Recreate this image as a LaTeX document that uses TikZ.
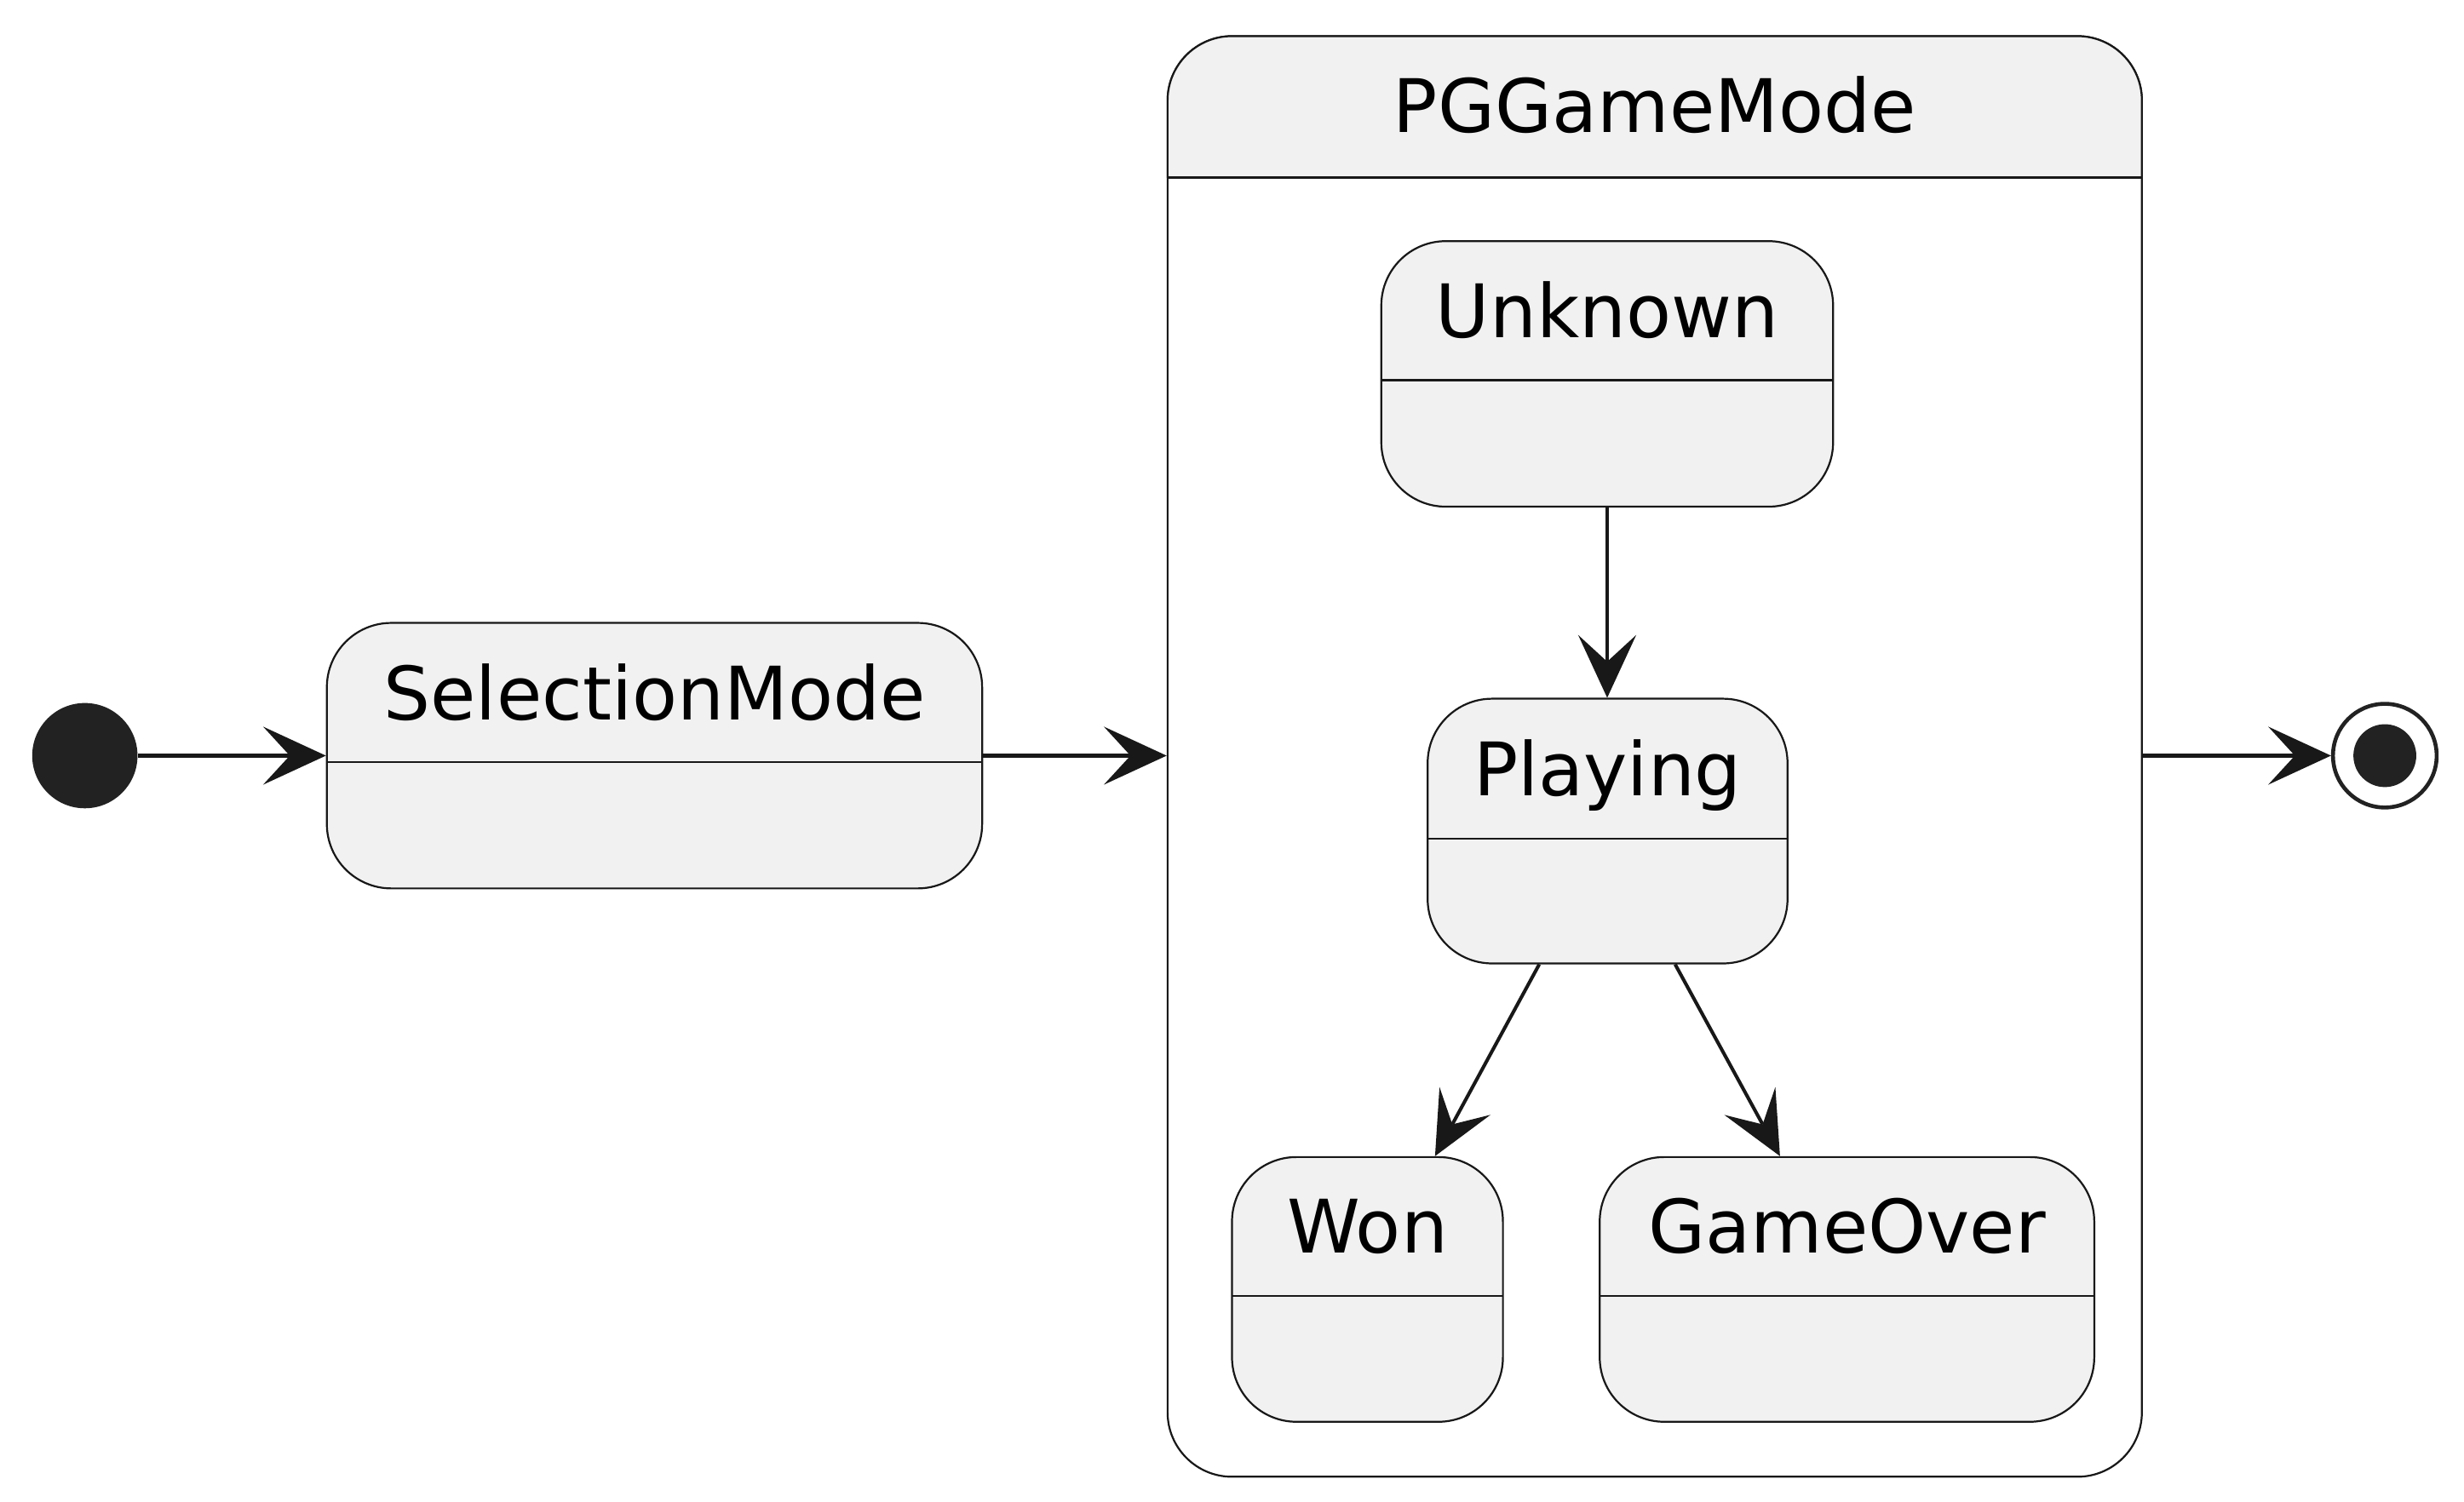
\documentclass[tikz,border=0pt]{standalone}
\usepackage{fontspec}
\setmainfont{DejaVu Sans}
\usetikzlibrary{arrows.meta,calc}
\definecolor{stfill}{HTML}{F1F1F1}
\definecolor{stline}{HTML}{181818}
\definecolor{dot}{HTML}{222222}
\tikzset{
  statebox/.style={draw=stline, fill=stfill, line width=1.2pt, rounded corners=41pt,
    rectangle, inner sep=0pt},
  statelabel/.style={anchor=base, inner sep=0pt, font=\fontsize{47}{56}\selectfont},
  sepline/.style={draw=stline, line width=1.2pt},
  trans/.style={draw=stline, line width=2.2pt,
    -{Stealth[length=40pt, width=37pt, inset=17pt, line width=0pt]}},
}
\begin{document}
\begin{tikzpicture}[x=1pt, y=-1pt]
\useasboundingbox (0,0) rectangle (1568,956);
% initial
\node[circle, fill=dot, minimum size=67pt, inner sep=0pt] (init) at (54,481) {};
% SelectionMode
\node[statebox, minimum width=417pt, minimum height=169pt] (sel) at (416.5,481) {};
\draw[sepline] (208,485) -- (625,485);
\node[statelabel] (selt) at (416.5,458) {SelectionMode};
% PGGameMode composite
\node[draw=stline, fill=white, line width=1.2pt, rounded corners=41pt, rectangle, inner sep=0pt,
      minimum width=620pt, minimum height=917pt] (pg) at (1053,481.5) {};
\begin{scope}
  \clip (700,0) rectangle (1400,113);
  \fill[stfill, rounded corners=41pt] (743,23) rectangle (1363,940);
  \draw[stline, line width=1.2pt, rounded corners=41pt] (743,23) rectangle (1363,940);
\end{scope}
\draw[sepline] (743,113) -- (1363,113);
\node[statelabel] (pgt) at (1053,84.3) {PGGameMode};
% Unknown
\node[statebox, minimum width=287.5pt, minimum height=169pt] (unk) at (1022.75,238) {};
\draw[sepline] (879,242) -- (1166.5,242);
\node[statelabel] (unkt) at (1022.75,215) {Unknown};
% Playing
\node[statebox, minimum width=229pt, minimum height=168.5pt] (play) at (1023,529) {};
\draw[sepline] (908.5,534) -- (1137.5,534);
\node[statelabel] (playt) at (1023,506.5) {Playing};
% Won
\node[statebox, minimum width=172.4pt, minimum height=168.5pt] (won) at (870.2,820.75) {};
\draw[sepline] (784,825) -- (956.4,825);
\node[statelabel] (wont) at (870.2,797.5) {Won};
% GameOver
\node[statebox, minimum width=314.7pt, minimum height=168.5pt] (go) at (1175.35,820.75) {};
\draw[sepline] (1018,825) -- (1332.7,825);
\node[statelabel] (got) at (1175.35,797.5) {GameOver};
% final
\node[circle, draw=dot, line width=2.5pt, fill=white, minimum size=66pt, inner sep=0pt] (fin) at (1517.6,481) {};
\node[circle, fill=dot, minimum size=40pt, inner sep=0pt] (finin) at (fin.center) {};
% transitions
\draw[trans] (init.east) -- (sel.west);
\draw[trans] (sel.east) -- (sel.east -| pg.west);
\draw[trans] (unk.south) -- (unk.south |- play.north);
\draw[trans] ($(play.south)+(-43.5,0)$) -- ($(won.north)+(43,0)$);
\draw[trans] ($(play.south)+(43,0)$) -- ($(go.north)+(-42.65,0)$);
\draw[trans] (pg.east |- fin.west) -- (fin.west);
\end{tikzpicture}
\end{document}
